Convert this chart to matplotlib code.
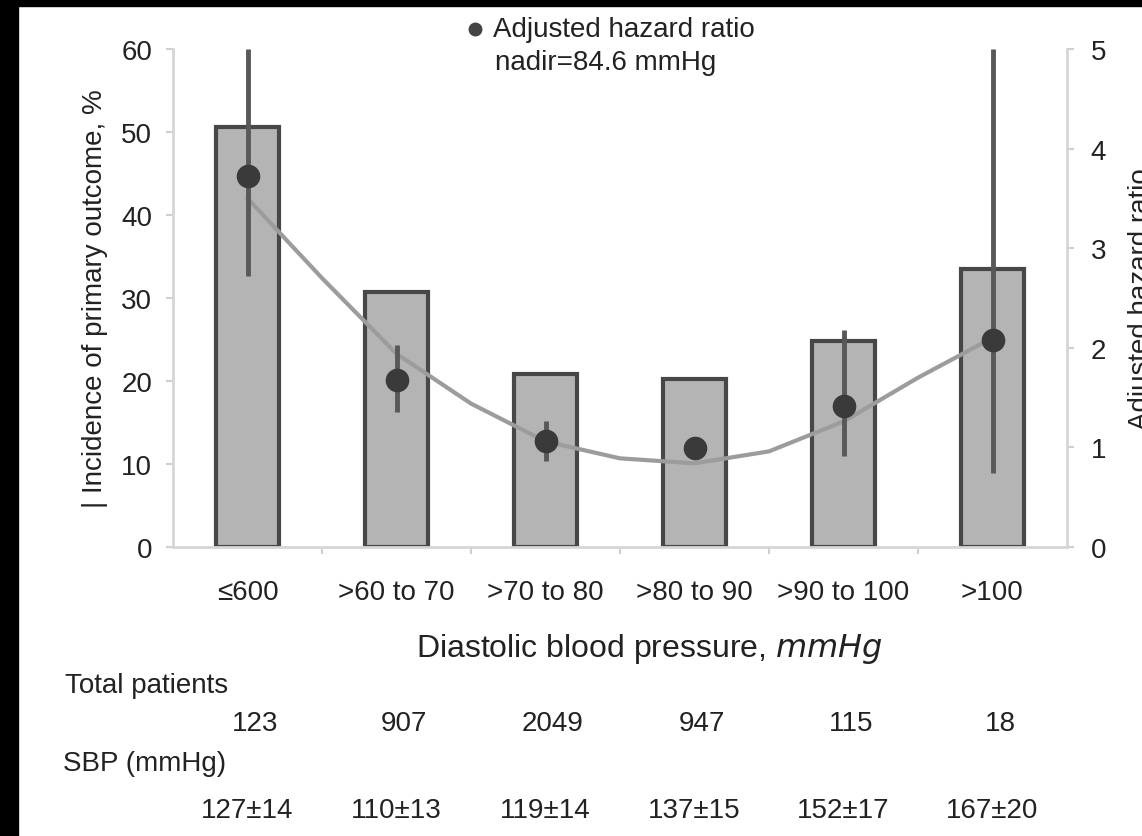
import matplotlib
matplotlib.use("Agg")
import matplotlib.pyplot as plt
from matplotlib.lines import Line2D
from matplotlib.patches import Rectangle
from matplotlib.transforms import blended_transform_factory

plt.rcParams['font.family'] = ['Liberation Sans', 'DejaVu Sans']

# values
categories = ["≤600", ">60 to 70", ">70 to 80", ">80 to 90", ">90 to 100", ">100"]
incidence = [50.6, 30.7, 20.8, 20.2, 24.8, 33.5]
hr = [3.72, 1.68, 1.06, 0.99, 1.42, 2.08]
hr_low = [2.72, 1.36, 0.86, 0.90, 0.91, 0.74]
hr_high = [5.0, 2.03, 1.27, 1.08, 2.18, 5.0]
curve_pos = [0, 0.5, 1, 1.5, 2, 2.5, 3, 3.5, 4, 4.5, 5]
curve_hr = [3.5, 2.70, 1.94, 1.44, 1.06, 0.89, 0.84, 0.96, 1.26, 1.70, 2.10]
patients = ["123", "907", "2049", "947", "115", "18"]
sbp = ["127±14", "110±13", "119±14", "137±15", "152±17", "167±20"]

W, H = 1142, 837
fig = plt.figure(figsize=(W / 100, H / 100), dpi=100)
ax = fig.add_axes([173 / W, 1 - 548 / H, (1067 - 173) / W, (548 - 50) / H])
ax2 = ax.twinx()

x = list(range(len(categories)))
ax.bar(x, incidence, width=0.42, color='#b4b4b4', edgecolor='#474747', linewidth=3, zorder=2)
ax.set_xlim(-0.5, 5.5)
ax.set_ylim(0, 60)
ax.set_yticks(range(0, 61, 10))
ax.set_xticks(x)
ax.set_xticklabels(categories)
ax.set_xticks([0.5, 1.5, 2.5, 3.5, 4.5], minor=True)

# fitted curve, then hazard ratios with CI
ax2.plot(curve_pos, curve_hr, color='#9c9c9c', lw=3, zorder=3)
yerr = [[h - lo for h, lo in zip(hr, hr_low)], [hi - h for h, hi in zip(hr, hr_high)]]
ax2.errorbar(x, hr, yerr=yerr, fmt='o', color='#3a3a3a', ecolor='#585858',
             elinewidth=3.5, capsize=0, markersize=16, zorder=4)
ax2.set_ylim(0, 5)
ax2.set_yticks(range(0, 6))

for a in (ax, ax2):
    a.spines['top'].set_visible(False)
    for s in ('left', 'right', 'bottom'):
        a.spines[s].set_color('#d6d6d6')
        a.spines[s].set_linewidth(2)
ax.spines['right'].set_visible(False)
ax2.spines['left'].set_visible(False)
ax2.spines['bottom'].set_visible(False)

ax.tick_params(axis='y', labelsize=20, labelcolor='#222222', color='#d0d0d0', length=5, width=1.5, pad=10)
ax2.tick_params(axis='y', labelsize=20, labelcolor='#222222', color='#d0d0d0', length=5, width=1.5, pad=12)
ax.tick_params(axis='x', which='major', length=0, labelsize=20, labelcolor='#222222', pad=23)
ax.tick_params(axis='x', which='minor', length=5, width=1.5, color='#d0d0d0')

ax.set_ylabel("| Incidence of primary outcome, %", fontsize=20, color='#222222')
ax.yaxis.set_label_coords(-0.073, 0.5)
ax2.set_ylabel("Adjusted hazard ratio", fontsize=20, color='#222222')
ax2.yaxis.set_label_coords((1128 - 173) / (1067 - 173), 0.5)

fig.text(649 / W, 1 - 649 / H, "Diastolic blood pressure, $\\it{mmHg}$", fontsize=23,
         ha='center', va='center', color='#222222')

# legend-like note at top
fig.add_artist(Line2D([475 / W], [1 - 30 / H], marker='o', markersize=9, color='#444444',
                      transform=fig.transFigure))
fig.text(493 / W, 1 - 30 / H, "Adjusted hazard ratio", fontsize=20, va='center', color='#222222')
fig.text(495 / W, 1 - 63 / H, "nadir=84.6 mmHg", fontsize=20, va='center', color='#222222')

# table under the chart
tr = blended_transform_factory(ax.transData, fig.transFigure)
fig.text(65 / W, 1 - 686 / H, "Total patients", fontsize=20, va='center', color='#222222')
fig.text(63 / W, 1 - 764 / H, "SBP (mmHg)", fontsize=20, va='center', color='#222222')
for i in x:
    ax.text(i + 0.05, 1 - 724 / H, patients[i], transform=tr, fontsize=20,
            ha='center', va='center', color='#222222')
    ax.text(i, 1 - 811 / H, sbp[i], transform=tr, fontsize=20,
            ha='center', va='center', color='#222222')

# black frame strips from the cropped source
fig.add_artist(Rectangle((0, 1 - 7 / H), 1, 7 / H, transform=fig.transFigure, color='black', zorder=10))
fig.add_artist(Rectangle((0, 0), 18 / W, 1, transform=fig.transFigure, color='black', zorder=10))

fig.savefig("out.png", dpi=100)
